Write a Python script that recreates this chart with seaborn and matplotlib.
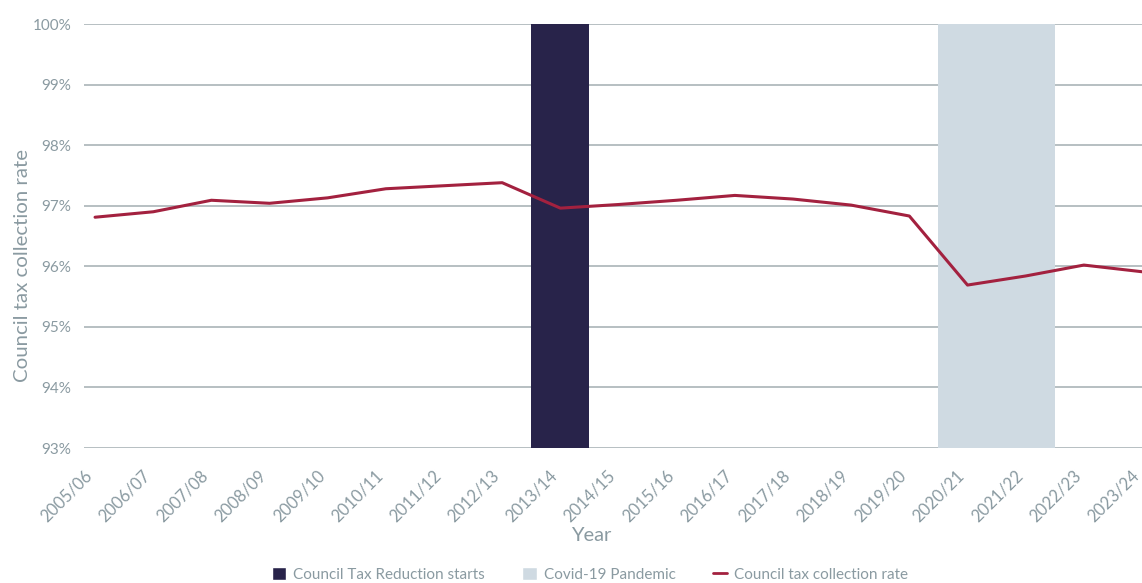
import matplotlib
matplotlib.use("Agg")
import matplotlib.pyplot as plt
from matplotlib.patches import Patch
from matplotlib.lines import Line2D
import seaborn as sns
import pandas as pd

years = ["2005/06", "2006/07", "2007/08", "2008/09", "2009/10", "2010/11",
         "2011/12", "2012/13", "2013/14", "2014/15", "2015/16", "2016/17",
         "2017/18", "2018/19", "2019/20", "2020/21", "2021/22", "2022/23",
         "2023/24"]
collection_rate = [96.81, 96.90, 97.09, 97.04, 97.13, 97.28, 97.33, 97.38,
                   96.96, 97.02, 97.09, 97.17, 97.11, 97.01, 96.83, 95.69,
                   95.84, 96.02, 95.91]
ctr_years = ["2013/14"]
covid_years = ["2020/21", "2021/22"]
y_ticks = [93, 94, 95, 96, 97, 98, 99, 100]

DARK = "#28234a"
LIGHT = "#cfdae2"
LINE = "#a3213f"
TEXT = "#8a9aa1"
GRID = "#a3adb1"

sns.set_theme(style="white")
plt.rcParams["font.family"] = ["Lato", "DejaVu Sans"]

df = pd.DataFrame({"year": years, "rate": collection_rate})
df["ctr"] = [100 if y in ctr_years else 0 for y in years]
df["covid"] = [100 if y in covid_years else 0 for y in years]

fig, ax = plt.subplots(figsize=(11.42, 5.83), dpi=100)
fig.subplots_adjust(left=84 / 1142, right=1.0, top=1 - 24 / 583, bottom=1 - 448 / 583)

for yv in y_ticks:
    ax.axhline(yv, color=GRID, lw=1.1, zorder=0)

# Shaded periods drawn as full-height bars behind the collection-rate line
sns.barplot(data=df, x="year", y="covid", color=LIGHT, width=1.0,
            saturation=1, linewidth=0, edgecolor=LIGHT, ax=ax, zorder=1)
sns.barplot(data=df, x="year", y="ctr", color=DARK, width=1.0,
            saturation=1, linewidth=0, edgecolor=DARK, ax=ax, zorder=2)
sns.lineplot(data=df, x="year", y="rate", color=LINE, lw=2.2, ax=ax,
             sort=False, zorder=3)

ax.set_ylim(93, 100)
ax.set_xlim(-0.19, 18.0)
ax.set_yticks(y_ticks)
ax.set_yticklabels([f"{v}%" for v in y_ticks])
ax.set_xticks(range(len(years)))
ax.set_xticklabels(years)
for s in ax.spines.values():
    s.set_visible(False)
ax.tick_params(axis="both", length=0, colors=TEXT)
ax.tick_params(axis="y", pad=9, labelsize=11)
ax.tick_params(axis="x", pad=14, labelsize=12, labelrotation=45)
for lbl in ax.get_xticklabels():
    lbl.set_ha("right")
    lbl.set_va("top")

ax.set_xlabel("Year", color=TEXT, fontsize=14.5)
ax.xaxis.set_label_coords((591 - 84) / 1058, (448 - 527) / 424)
ax.set_ylabel("Council tax collection rate", color=TEXT, fontsize=14.7)
ax.yaxis.set_label_coords((31 - 84) / 1058, (448 - 266) / 424)

handles = [
    Patch(facecolor=DARK, label="Council Tax Reduction starts"),
    Patch(facecolor=LIGHT, label="Covid-19 Pandemic"),
    Line2D([0], [0], color=LINE, lw=2, label="Council tax collection rate"),
]
fig.legend(handles=handles, loc="center", bbox_to_anchor=(590 / 1142, 0.015),
           ncol=3, frameon=False, fontsize=11, handlelength=0.95,
           handleheight=1.0, columnspacing=2.45, handletextpad=0.45,
           labelcolor=TEXT)

fig.savefig("out.png", dpi=100)
